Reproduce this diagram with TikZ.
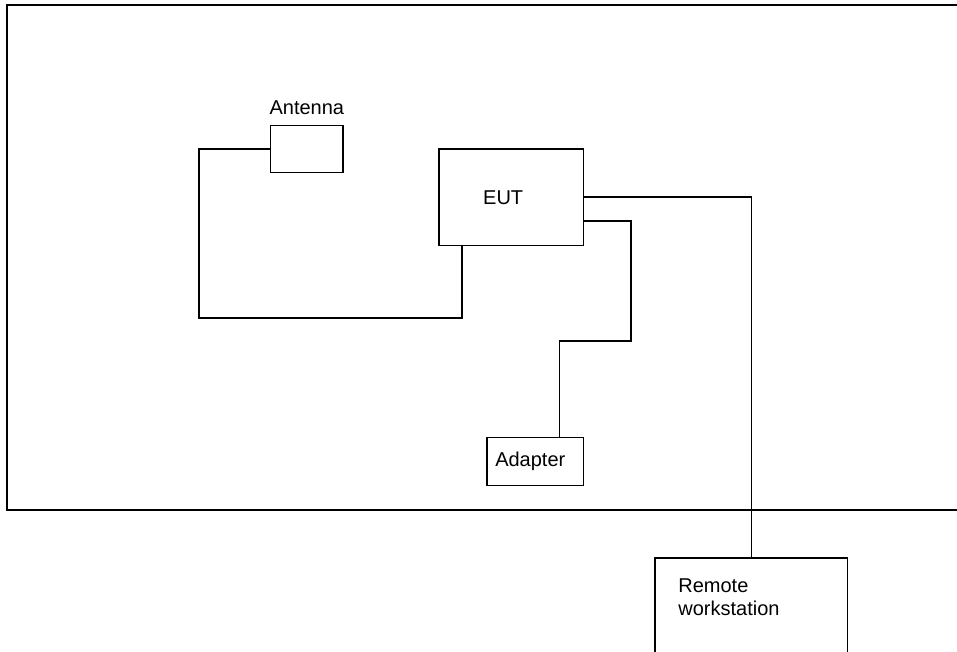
\documentclass[tikz,border=0pt]{standalone}
\usepackage{fontspec}
\setmainfont{Liberation Sans}
\usetikzlibrary{calc, positioning}
\tikzset{
  every picture/.style={line join=miter, font=\fontsize{20}{23}\selectfont},
  unit/.style={draw, line width=1.6pt, inner sep=0pt},
  wire/.style={line width=1.6pt},
  lbl/.style={inner sep=0pt},
}

\begin{document}
\begin{tikzpicture}[x=1pt, y=-1pt]
  \useasboundingbox (0,0) rectangle (957,652);
  \clip (0,0) rectangle (957,652);
  % shielded room
  \draw[wire] (990,5) -| (7,510) -- (990,510);
  % units
  \node[unit, minimum width=72.3pt, minimum height=47pt] (ant) at (306.8,149.2) {};
  \node[lbl, above=10.5pt of ant] (antlbl) {Antenna};
  \node[unit, minimum width=144.3pt, minimum height=96pt] (eut) at (511.2,197.3) {};
  \node[lbl] (eutlbl) at ([xshift=-8pt]eut.center) {EUT};
  \node[unit, minimum width=96.7pt, minimum height=48pt] (adapter) at (535.3,461.3) {};
  \node[lbl] (adlbl) at ([xshift=-5pt]adapter.center) {Adapter};
  \node[unit, minimum width=192.7pt, minimum height=120pt] (remote) at (751.3,617.7) {};
  \node[lbl, align=left, anchor=north west] (remlbl) at ($(remote.north west)+(24,22)$) {Remote\\workstation};
  % cables
  \draw[wire] (ant.west) -| (199,317.7) -| ([xshift=-49pt]eut.south);
  \draw[wire] (eut.east) -| (remote.north);
  \draw[wire] ([yshift=-23.7pt]eut.east) -| (631,341) -| ([xshift=24pt]adapter.north);
\end{tikzpicture}
\end{document}
